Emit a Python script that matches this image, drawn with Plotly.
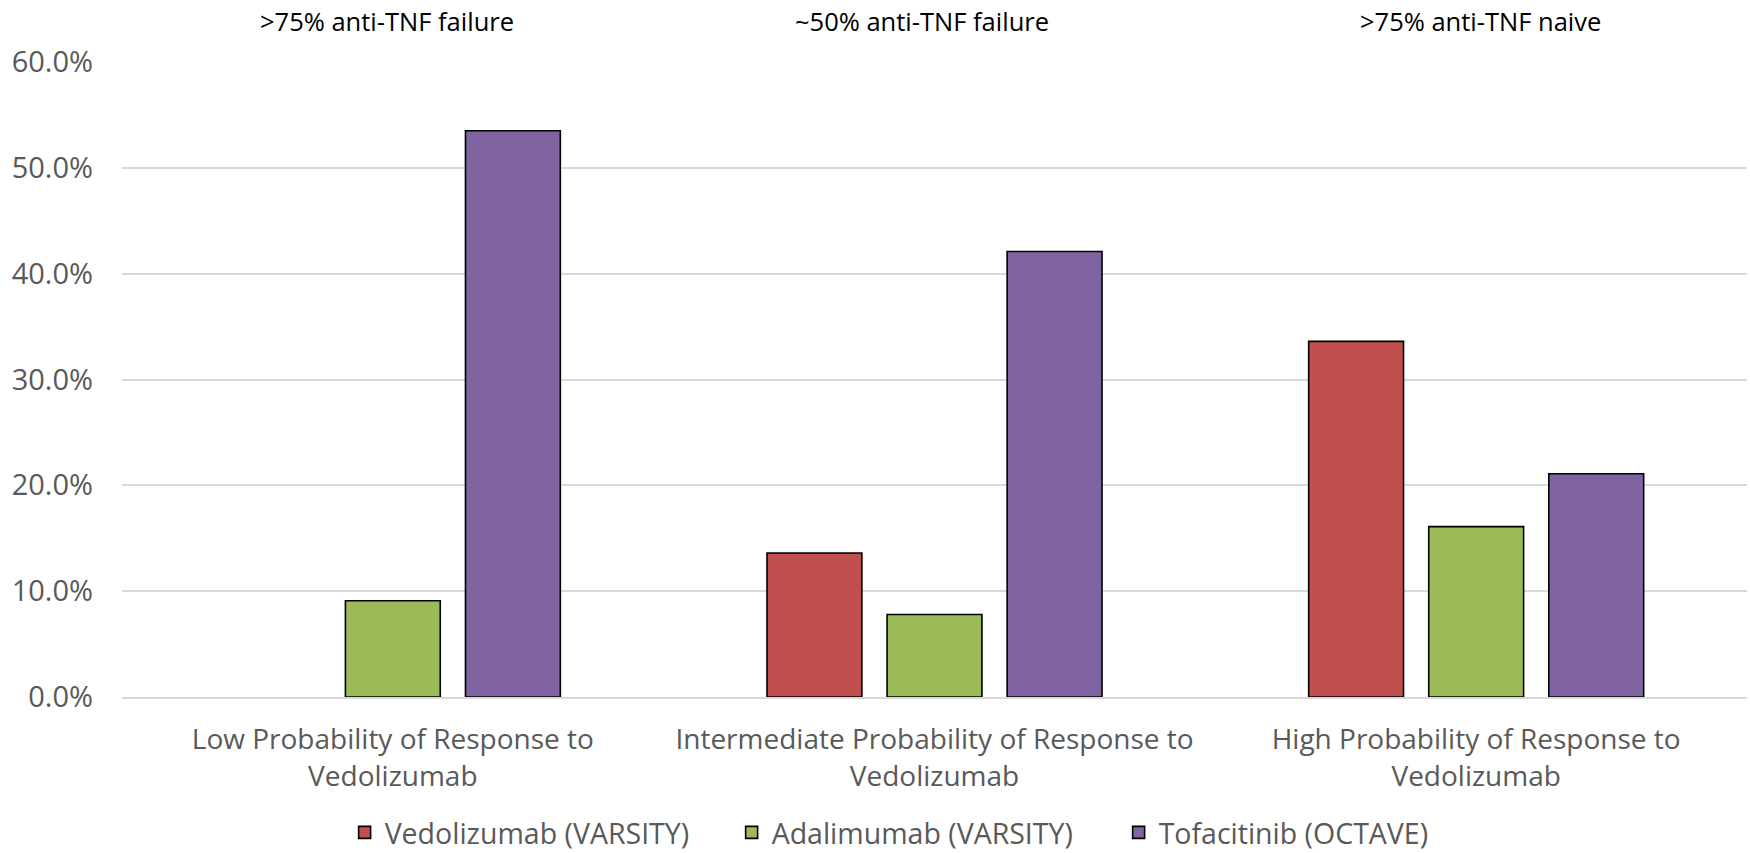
import plotly.graph_objects as go

# Response-probability groups on the x axis
categories = [
    "Low Probability of Response to<br>Vedolizumab",
    "Intermediate Probability of Response to<br>Vedolizumab",
    "High Probability of Response to<br>Vedolizumab",
]

# Headers above each group
group_notes = [">75% anti-TNF failure", "~50% anti-TNF failure", ">75% anti-TNF naive"]
group_note_x = [0.163, 0.492, 0.836]

# Remission rates (fractions)
vedolizumab = [None, 0.136, 0.336]
adalimumab = [0.091, 0.078, 0.161]
tofacitinib = [0.535, 0.421, 0.211]

series = [
    ("Vedolizumab (VARSITY)", vedolizumab, "#C0504D"),
    ("Adalimumab (VARSITY)", adalimumab, "#9BBB59"),
    ("Tofacitinib (OCTAVE)", tofacitinib, "#8064A2"),
]

FONT = "Open Sans"
GREY = "#595959"

fig = go.Figure()
for name, vals, color in series:
    fig.add_trace(go.Bar(
        name=name,
        x=categories,
        y=vals,
        marker=dict(color=color, line=dict(color="#000000", width=1.6)),
    ))

for text, xp in zip(group_notes, group_note_x):
    fig.add_annotation(
        x=xp, y=1.064, xref="paper", yref="paper",
        text=text, showarrow=False,
        font=dict(family=FONT, size=25.5, color="#000000"),
        xanchor="center", yanchor="middle",
    )

fig.update_layout(
    width=1750, height=853,
    margin=dict(l=122, r=3, t=62, b=156, autoexpand=False),
    paper_bgcolor="white", plot_bgcolor="white",
    barmode="group", bargap=0.335, bargroupgap=0.21,
    font=dict(family=FONT, size=28, color=GREY),
    legend=dict(
        orientation="h", x=0.137, xanchor="left", y=-0.214, yanchor="middle",
        entrywidth=342, entrywidthmode="pixels",
        font=dict(family=FONT, size=28.5, color=GREY),
        itemclick=False, itemdoubleclick=False,
    ),
    showlegend=True,
)

fig.update_yaxes(
    range=[0, 0.6], dtick=0.1, tickformat=".1%",
    showgrid=True, gridcolor="#D9D9D9", gridwidth=1.5,
    zeroline=False, showline=False, ticks="",
    ticklabelstandoff=28, automargin=False,
    tickfont=dict(family=FONT, size=29, color=GREY),
)
fig.update_xaxes(
    showgrid=False, zeroline=False,
    showline=True, linecolor="#D9D9D9", linewidth=1.5,
    ticks="", ticklabelstandoff=17, automargin=False,
    tickfont=dict(family=FONT, size=28, color=GREY),
)

fig.write_html("out.html")
